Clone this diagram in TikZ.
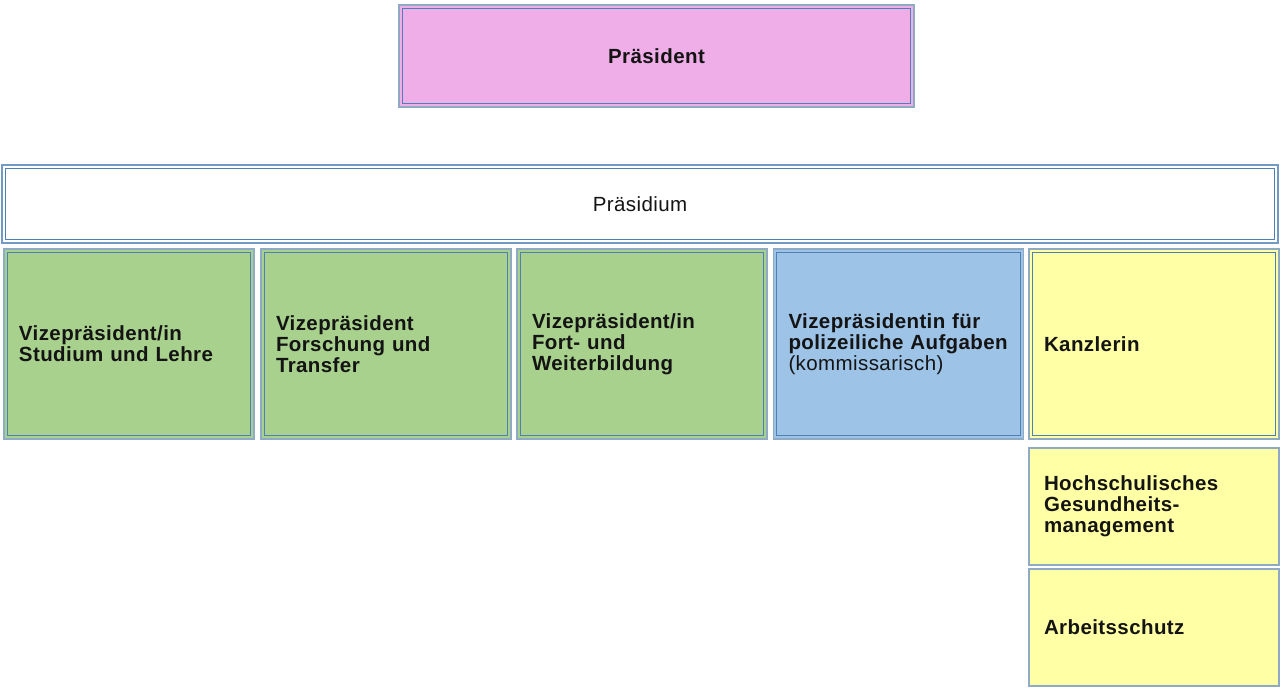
\documentclass[tikz,border=0pt]{standalone}
\usepackage{fontspec}
\setmainfont{Liberation Sans}[LetterSpace=2]
\definecolor{pinkf}{HTML}{EFAEE8}
\definecolor{greenf}{HTML}{A9D18E}
\definecolor{bluef}{HTML}{9DC3E6}
\definecolor{yellowf}{HTML}{FFFFA6}
\definecolor{outerc}{HTML}{8FAAC4}
\definecolor{innerc}{HTML}{4F7FB5}
\definecolor{txt}{HTML}{141414}
\begin{document}
\begin{tikzpicture}[x=1pt,y=1pt,
  box/.style={rectangle, draw=outerc, line width=1.2pt, inner xsep=15pt, inner ysep=0pt,
    minimum height=#1, align=left, font=\fontsize{20.5}{21}\selectfont\bfseries, text=txt},
  box/.default=190pt,
  vbox/.style={box, text width=220pt, minimum width=250pt},
  inner/.style={draw=innerc, line width=1.1pt}
]
\useasboundingbox (0,0) rectangle (1283,690);
\fill[white] (0,0) rectangle (1283,690);

\node[box=102pt, fill=pinkf, minimum width=515pt, text width=485pt, align=center] (praes) at (656.5,634) {Präsident};
\node[box=78pt, fill=white, draw=innerc!80, minimum width=1276pt, text width=1246pt, align=center, font=\fontsize{20.5}{21}\selectfont\mdseries] (gremium) at (640,486) {Präsidium};

\node[vbox, fill=greenf] (vp1) at (129,346) {Vizepräsident/in\\Studium und Lehre};
\node[vbox, fill=greenf] (vp2) at (386,346) {Vizepräsident\\Forschung und\\Transfer};
\node[vbox, fill=greenf] (vp3) at (642,346) {Vizepräsident/in\\Fort- und\\Weiterbildung};
\node[vbox, fill=bluef] (vp4) at (898.5,346) {Vizepräsidentin für\\polizeiliche Aufgaben\\\mdseries(kommissarisch)};
\node[vbox, fill=yellowf] (kanz) at (1154,346) {Kanzlerin};

\node[vbox, box=117pt, fill=yellowf] (bgm) at (1154,183.5) {Hochschulisches\\Gesundheits-\\management};
\node[vbox, box=117pt, fill=yellowf] (as) at (1154,62.5) {Arbeitsschutz};

\foreach \n in {praes,gremium,vp1,vp2,vp3,vp4,kanz}{
  \draw[inner] ([shift={(4,4)}]\n.south west) rectangle ([shift={(-4,-4)}]\n.north east);
}
\end{tikzpicture}
\end{document}
